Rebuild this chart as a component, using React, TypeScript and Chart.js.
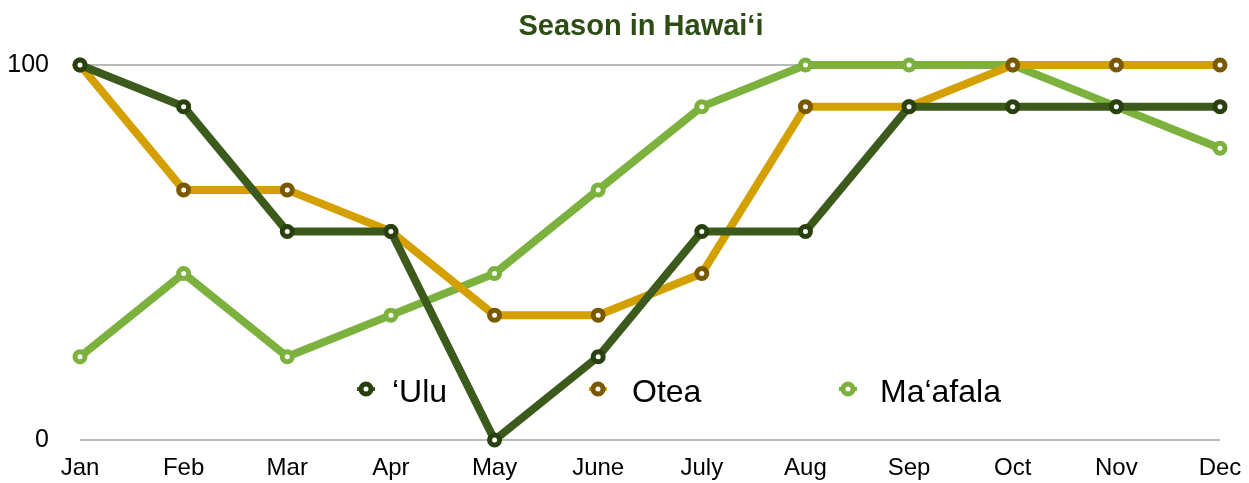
import React, { useEffect, useRef } from "react";
import { Chart, registerables } from "chart.js";

Chart.register(...registerables);

const months = ["Jan", "Feb", "Mar", "Apr", "May", "June", "July", "Aug", "Sep", "Oct", "Nov", "Dec"];
const ulu = [100, 88.9, 55.6, 55.6, 0, 22.2, 55.6, 55.6, 88.9, 88.9, 88.9, 88.9];
const otea = [100, 66.7, 66.7, 55.6, 33.3, 33.3, 44.4, 88.9, 88.9, 100, 100, 100];
const maafala = [22.2, 44.4, 22.2, 33.3, 44.4, 66.7, 88.9, 100, 100, 100, 88.9, 77.8];
const seriesNames = ["\u2018Ulu", "Otea", "Ma\u2018afala"];
const titleText = "Season in Hawai\u2018i";

const FONT = "'Liberation Sans', Arial, Helvetica, sans-serif";
const lineColors = ["#3b5a1c", "#d4a000", "#7cb13e"];
const pointColors = ["#29400f", "#7a5800", "#7cb13e"];

const overlayPlugin = {
  id: "overlay",
  afterDraw(chart: any) {
    const ctx = chart.ctx;
    ctx.save();
    ctx.font = `bold 29px ${FONT}`;
    ctx.fillStyle = "#2d4d14";
    ctx.textAlign = "center";
    ctx.textBaseline = "alphabetic";
    ctx.fillText(titleText, 641, 35);
    const markerX = [366, 598, 848];
    const textX = [392, 632, 880];
    const y = 389;
    for (let i = 0; i < 3; i++) {
      ctx.strokeStyle = lineColors[i];
      ctx.lineWidth = 4;
      ctx.beginPath();
      ctx.moveTo(markerX[i] - 9, y);
      ctx.lineTo(markerX[i] + 9, y);
      ctx.stroke();
      ctx.beginPath();
      ctx.arc(markerX[i], y, 5, 0, Math.PI * 2);
      ctx.fillStyle = "#ffffff";
      ctx.fill();
      ctx.lineWidth = 5;
      ctx.strokeStyle = pointColors[i];
      ctx.stroke();
      ctx.fillStyle = "#000000";
      ctx.font = `32px ${FONT}`;
      ctx.textAlign = "left";
      ctx.fillText(seriesNames[i], textX[i], 402);
    }
    ctx.restore();
  },
};

export default function App() {
  const ref = useRef<HTMLCanvasElement | null>(null);
  useEffect(() => {
    if (!ref.current) return;
    const mk = (i: number, data: number[]) => ({
      label: seriesNames[i],
      data,
      borderColor: lineColors[i],
      backgroundColor: "#ffffff",
      borderWidth: 8,
      pointRadius: 5,
      pointBorderWidth: 5,
      pointBackgroundColor: "#ffffff",
      pointBorderColor: pointColors[i],
      tension: 0,
      clip: false,
    });
    const chart = new Chart(ref.current, {
      type: "line",
      data: {
        labels: months,
        datasets: [mk(0, ulu), mk(1, otea), mk(2, maafala)],
      },
      options: {
        animation: false,
        responsive: false,
        maintainAspectRatio: false,
        layout: { padding: { top: 65, right: 29, left: 0, bottom: 0 } },
        plugins: {
          legend: { display: false },
          title: { display: false },
          tooltip: { enabled: false },
        },
        scales: {
          x: {
            offset: false,
            grid: { display: false, drawTicks: false },
            border: { display: false },
            ticks: { color: "#000", font: { family: FONT, size: 24 }, padding: 14, maxRotation: 0, autoSkip: false },
            afterFit: (s: any) => { s.height = 43; s.paddingLeft = 0; s.paddingRight = 0; },
          },
          y: {
            min: 0,
            max: 100,
            grid: { color: "#b9b9b9", lineWidth: 2, drawTicks: false },
            border: { display: false },
            ticks: { stepSize: 100, color: "#000", font: { family: FONT, size: 25 }, padding: 31 },
            afterFit: (s: any) => { s.width = 80; s.paddingTop = 0; s.paddingBottom = 0; },
          },
        },
      },
      plugins: [overlayPlugin],
    } as any);
    return () => chart.destroy();
  }, []);
  return (
    <div style={{ position: "fixed", left: 0, top: 0, width: 1249, height: 483, background: "#fff" }}>
      <canvas ref={ref} width={1249} height={483} style={{ display: "block" }} />
    </div>
  );
}
